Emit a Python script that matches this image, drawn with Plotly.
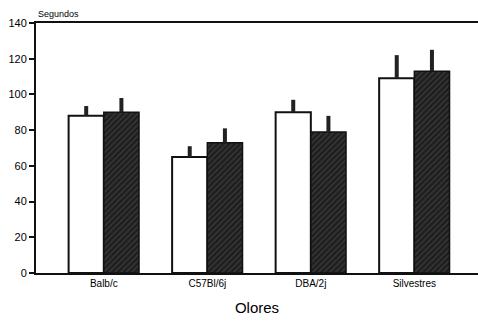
import plotly.graph_objects as go

categories = ["Balb/c", "C57Bl/6j", "DBA/2j", "Silvestres"]
white_vals = [88, 65, 90, 109]
white_err = [5.5, 6, 7, 13]
dark_vals = [90, 73, 79, 113]
dark_err = [8, 8, 9, 12]
y_ticks = [0, 20, 40, 60, 80, 100, 120, 140]

x = list(range(len(categories)))

fig = go.Figure()
fig.add_trace(go.Bar(
    x=x, y=white_vals, name="A",
    marker=dict(color="white", line=dict(color="#111", width=2)),
    error_y=dict(type="data", array=white_err, arrayminus=[0]*4, symmetric=False,
                 color="#222", thickness=4, width=0),
))
fig.add_trace(go.Bar(
    x=x, y=dark_vals, name="B",
    marker=dict(color="#262626", line=dict(color="#111", width=1.5),
                pattern=dict(shape="/", fgcolor="#555555", bgcolor="#1e1e1e",
                             size=4, solidity=0.35)),
    error_y=dict(type="data", array=dark_err, arrayminus=[0]*4, symmetric=False,
                 color="#222", thickness=4, width=0),
))

fig.update_layout(
    width=478, height=321,
    margin=dict(l=36, r=0, t=23, b=48),
    paper_bgcolor="white", plot_bgcolor="white",
    barmode="group", bargap=0.32, bargroupgap=0,
    showlegend=False,
    font=dict(family="Liberation Sans, Arial, sans-serif", color="#000"),
    xaxis=dict(
        range=[-0.655, 3.615], tickmode="array", tickvals=x, ticktext=categories,
        showline=True, linecolor="#111", linewidth=2, mirror=True,
        ticks="", showgrid=False, zeroline=False,
        tickfont=dict(size=10),
        title=dict(text="Olores", font=dict(size=15), standoff=14),
    ),
    yaxis=dict(
        range=[0, 140], tickmode="array", tickvals=y_ticks,
        showline=True, linecolor="#111", linewidth=2,
        ticks="outside", ticklen=5, tickwidth=2, tickcolor="#111",
        showgrid=False, zeroline=False,
        tickfont=dict(size=11),
    ),
    annotations=[dict(text="Segundos", xref="paper", yref="paper", x=0.0, y=1.0,
                      xanchor="left", yanchor="bottom", showarrow=False,
                      font=dict(size=9), yshift=2)],
)

fig.write_html("out.html")
